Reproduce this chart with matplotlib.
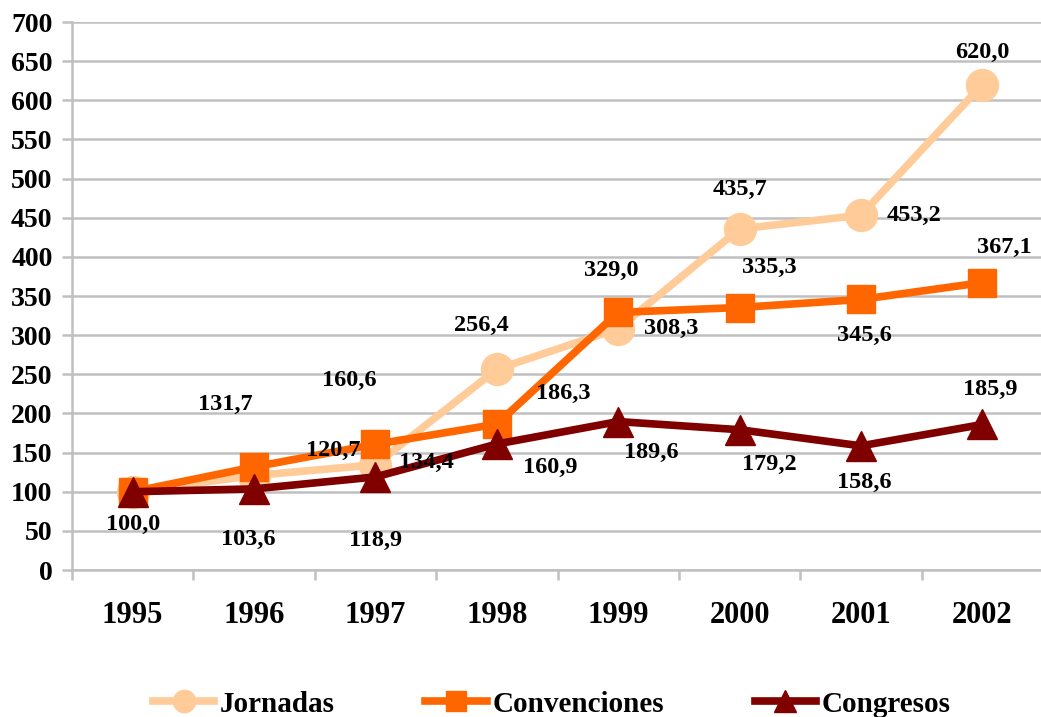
import numpy as np
import matplotlib
matplotlib.use("Agg")
import matplotlib.pyplot as plt

plt.rcParams['font.family'] = ['Liberation Serif', 'DejaVu Serif']
plt.rcParams['font.weight'] = 'bold'

# data
years = ['1995', '1996', '1997', '1998', '1999', '2000', '2001', '2002']
jornadas = [100.0, 120.7, 134.4, 256.4, 308.3, 435.7, 453.2, 620.0]
convenciones = [100.0, 131.7, 160.6, 186.3, 329.0, 335.3, 345.6, 367.1]
congresos = [100.0, 103.6, 118.9, 160.9, 189.6, 179.2, 158.6, 185.9]

# label offsets in pixels (dx, dy with y up), None = no label
off_jor = [None, (79, 25), (51, 2), (-15, 44), (53, 0), (0, 39), (53, 0), (0, 32)]
off_con = [None, (-29, 62), (-26, 64), (66, 31), (-7, 42), (30, 40), (3, -36), (22, 35)]
off_cong = [(0, -33), (-6, -51), (0, -64), (53, -23), (33, -31), (30, -35), (3, -37), (8, 35)]

fig = plt.figure(figsize=(10.41, 7.17), dpi=100)
ax = fig.add_axes([72 / 1041, 1 - 570 / 717, 971 / 1041, 548 / 717])

x = np.arange(len(years))
grid_c = '#C0C0C0'

ax.plot(x, jornadas, color='#FFCC99', lw=5.5, marker='o', ms=23, label='Jornadas', zorder=3)
ax.plot(x, convenciones, color='#FF6600', lw=5.5, marker='s', ms=20, label='Convenciones', zorder=4)
ax.plot(x, congresos, color='#800000', lw=5.5, marker='^', ms=22, label='Congresos', zorder=5)

def fmt(v):
    return f"{v:.1f}".replace('.', ',')

for vals, offs in [(jornadas, off_jor), (convenciones, off_con), (congresos, off_cong)]:
    for i, (v, o) in enumerate(zip(vals, offs)):
        if o is None:
            continue
        ax.annotate(fmt(v), (x[i], v), xytext=(o[0] * 0.72, o[1] * 0.72),
                    textcoords='offset points', ha='center', va='center',
                    fontsize=17.5, fontweight='bold', zorder=6)

ax.set_xlim(-0.5, 7.5)
ax.set_ylim(0, 700)
ax.set_yticks(np.arange(0, 701, 50))
ax.yaxis.grid(True, color=grid_c, lw=1.8)
ax.set_axisbelow(True)

ax.set_xticks(x)
ax.set_xticklabels(years)
ax.set_xticks(np.arange(-0.5, 7.6, 1), minor=True)
ax.tick_params(axis='x', which='major', length=0, pad=22, labelsize=22)
ax.tick_params(axis='x', which='minor', length=7, width=1.8, color=grid_c)
ax.tick_params(axis='y', length=7, width=1.8, color=grid_c, pad=7, labelsize=20)
for t in ax.get_xticklabels() + ax.get_yticklabels():
    t.set_fontweight('bold')

for s in ['top', 'right']:
    ax.spines[s].set_visible(False)
for s in ['left', 'bottom']:
    ax.spines[s].set_color(grid_c)
    ax.spines[s].set_linewidth(1.8)

leg = fig.legend(loc='center', bbox_to_anchor=(0.53, 1 - 704 / 717), ncol=3, frameon=False,
                 prop={'size': 21, 'weight': 'bold'}, handlelength=2.1, handletextpad=0.2,
                 columnspacing=3.1, markerscale=0.7)

fig.savefig('out.png', dpi=100)
